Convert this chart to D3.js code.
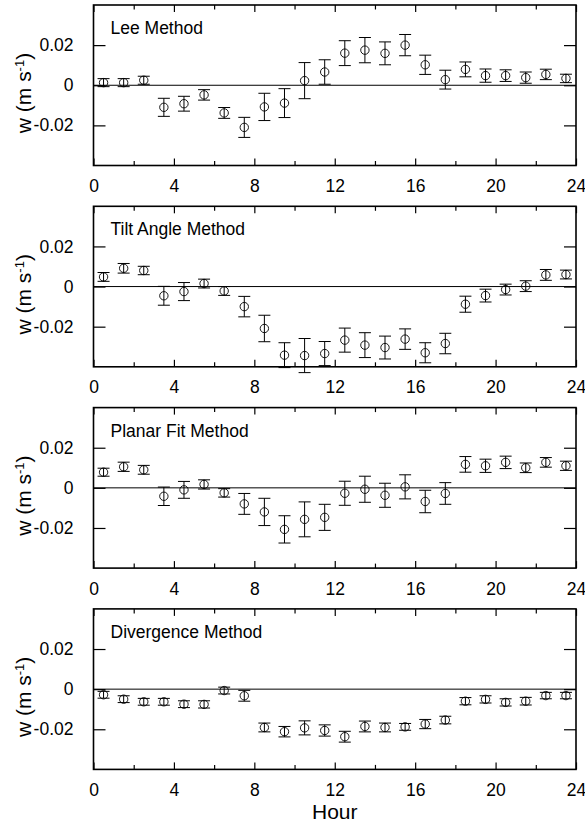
<!DOCTYPE html>
<html>
<head>
<meta charset="utf-8">
<script src="https://cdn.jsdelivr.net/npm/d3@7"></script>
<style>
  html, body { margin: 0; padding: 0; background: #fff; }
  svg { display: block; font-family: "Liberation Sans", Arial, Helvetica, sans-serif; }
</style>
</head>
<body>
<svg id="chart" width="585" height="823"></svg>
<script>
// Hour of day (bin centres)
const hours = [0.5, 1.5, 2.5, 3.5, 4.5, 5.5, 6.5, 7.5, 8.5, 9.5, 10.5, 11.5,
               12.5, 13.5, 14.5, 15.5, 16.5, 17.5, 18.5, 19.5, 20.5, 21.5, 22.5, 23.5];

// Panel titles
const methods = ["Lee Method", "Tilt Angle Method", "Planar Fit Method", "Divergence Method"];

// Mean vertical velocity w (m s-1) and error half-widths for each method
const leeW = [0.0013, 0.0013, 0.0025, -0.0110, -0.0092, -0.0048, -0.0138, -0.0210, -0.0108, -0.0089, 0.0023, 0.0066,
              0.0160, 0.0175, 0.0159, 0.0200, 0.0102, 0.0028, 0.0079, 0.0048, 0.0048, 0.0038, 0.0054, 0.0034];
const leeErr = [0.0020, 0.0020, 0.0020, 0.0045, 0.0037, 0.0026, 0.0027, 0.0050, 0.0068, 0.0072, 0.0090, 0.0061,
                0.0062, 0.0063, 0.0057, 0.0053, 0.0048, 0.0047, 0.0037, 0.0033, 0.0029, 0.0028, 0.0026, 0.0021];

const tiltW = [0.0048, 0.0091, 0.0080, -0.0046, -0.0025, 0.0015, -0.0022, -0.0100, -0.0209, -0.0342, -0.0344, -0.0334,
               -0.0267, -0.0292, -0.0304, -0.0262, -0.0330, -0.0284, -0.0088, -0.0045, -0.0015, 0.0002, 0.0058, 0.0060];
const tiltErr = [0.0022, 0.0024, 0.0021, 0.0047, 0.0045, 0.0022, 0.0022, 0.0051, 0.0066, 0.0062, 0.0085, 0.0060,
                 0.0060, 0.0062, 0.0057, 0.0051, 0.0050, 0.0051, 0.0040, 0.0032, 0.0027, 0.0027, 0.0027, 0.0022];

const planarW = [0.0078, 0.0105, 0.0090, -0.0042, -0.0010, 0.0017, -0.0025, -0.0080, -0.0120, -0.0207, -0.0157, -0.0147,
                 -0.0027, -0.0007, -0.0037, 0.0005, -0.0068, -0.0028, 0.0117, 0.0110, 0.0127, 0.0100, 0.0127, 0.0110];
const planarErr = [0.0020, 0.0023, 0.0022, 0.0046, 0.0042, 0.0023, 0.0021, 0.0052, 0.0068, 0.0068, 0.0087, 0.0065,
                   0.0060, 0.0065, 0.0060, 0.0060, 0.0056, 0.0054, 0.0039, 0.0033, 0.0031, 0.0024, 0.0024, 0.0023];

const divW = [-0.0028, -0.0050, -0.0063, -0.0063, -0.0075, -0.0076, -0.0007, -0.0033, -0.0191, -0.0212, -0.0193, -0.0206,
              -0.0237, -0.0186, -0.0191, -0.0188, -0.0174, -0.0154, -0.0060, -0.0051, -0.0066, -0.0060, -0.0032, -0.0032];
const divErr = [0.0017, 0.0017, 0.0017, 0.0017, 0.0017, 0.0018, 0.0017, 0.0027, 0.0022, 0.0026, 0.0035, 0.0028,
                0.0027, 0.0027, 0.0022, 0.0017, 0.0023, 0.0019, 0.0018, 0.0018, 0.0018, 0.0019, 0.0016, 0.0016];

const seriesW = [leeW, tiltW, planarW, divW];
const seriesErr = [leeErr, tiltErr, planarErr, divErr];

// Axis ticks
const xMajorTicks = [0, 4, 8, 12, 16, 20, 24];
const xMinorTicks = [2, 6, 10, 14, 18, 22];
const yTicks = [-0.02, 0, 0.02];

// Layout
const left = 93.5, right = 576;
const panelTop0 = 5, panelStep = 201.3, panelH = 160.5;

const svg = d3.select("#chart");
const x = d3.scaleLinear().domain([0, 24]).range([left, right]);
const yFmt = v => (v === 0 ? "0" : v.toFixed(2));

methods.forEach((name, i) => {
  const top = panelTop0 + i * panelStep;
  const bottom = top + panelH;
  const y = d3.scaleLinear().domain([-0.04, 0.04]).range([bottom, top]);
  const g = svg.append("g");

  // zero reference line
  g.append("line")
    .attr("x1", left).attr("x2", right)
    .attr("y1", y(0)).attr("y2", y(0))
    .attr("stroke", "#000").attr("stroke-width", 1);

  // axes with inward ticks
  const styleAxis = sel => {
    sel.select(".domain").remove();
    sel.selectAll(".tick line").attr("stroke", "#000").attr("stroke-width", 1.2);
    sel.selectAll("text").attr("fill", "#000");
  };

  g.append("g").attr("transform", `translate(0,${bottom})`)
    .call(d3.axisBottom(x).tickValues(xMajorTicks).tickSizeInner(-7).tickSizeOuter(0)
      .tickPadding(14).tickFormat(d3.format("d")))
    .call(styleAxis)
    .call(s => s.selectAll("text").attr("font-size", 17.5).attr("dy", "0.71em"));
  g.append("g").attr("transform", `translate(0,${bottom})`)
    .call(d3.axisBottom(x).tickValues(xMinorTicks).tickSizeInner(-4.5).tickSizeOuter(0).tickFormat(""))
    .call(styleAxis);
  g.append("g").attr("transform", `translate(0,${top})`)
    .call(d3.axisTop(x).tickValues(xMajorTicks).tickSizeInner(-7).tickSizeOuter(0).tickFormat(""))
    .call(styleAxis);
  g.append("g").attr("transform", `translate(0,${top})`)
    .call(d3.axisTop(x).tickValues(xMinorTicks).tickSizeInner(-4.5).tickSizeOuter(0).tickFormat(""))
    .call(styleAxis);
  g.append("g").attr("transform", `translate(${left},0)`)
    .call(d3.axisLeft(y).tickValues(yTicks).tickSizeInner(-12).tickSizeOuter(0)
      .tickPadding(20).tickFormat(yFmt))
    .call(styleAxis)
    .call(s => s.selectAll("text").attr("font-size", 17.5));
  g.append("g").attr("transform", `translate(${right},0)`)
    .call(d3.axisRight(y).tickValues(yTicks).tickSizeInner(-12).tickSizeOuter(0).tickFormat(""))
    .call(styleAxis);

  // frame
  g.append("rect")
    .attr("x", left).attr("y", top)
    .attr("width", right - left).attr("height", bottom - top)
    .attr("fill", "none").attr("stroke", "#000").attr("stroke-width", 1.6);

  // error bars and points
  const data = hours.map((h, k) => ({ h, w: seriesW[i][k], e: seriesErr[i][k] }));
  const pts = g.append("g").selectAll("g").data(data).join("g");
  const cap = 6;
  pts.append("line")
    .attr("x1", d => x(d.h)).attr("x2", d => x(d.h))
    .attr("y1", d => y(d.w + d.e)).attr("y2", d => y(d.w - d.e))
    .attr("stroke", "#000").attr("stroke-width", 1);
  pts.append("line")
    .attr("x1", d => x(d.h) - cap).attr("x2", d => x(d.h) + cap)
    .attr("y1", d => y(d.w + d.e)).attr("y2", d => y(d.w + d.e))
    .attr("stroke", "#000").attr("stroke-width", 1);
  pts.append("line")
    .attr("x1", d => x(d.h) - cap).attr("x2", d => x(d.h) + cap)
    .attr("y1", d => y(d.w - d.e)).attr("y2", d => y(d.w - d.e))
    .attr("stroke", "#000").attr("stroke-width", 1);
  pts.append("circle")
    .attr("cx", d => x(d.h)).attr("cy", d => y(d.w)).attr("r", 4.2)
    .attr("fill", "none").attr("stroke", "#000").attr("stroke-width", 0.9);

  // panel title
  g.append("text")
    .attr("x", left + 17).attr("y", top + 29)
    .attr("font-size", 17.5).attr("fill", "#000")
    .text(name);

  // y-axis label
  const yl = g.append("text")
    .attr("transform", `translate(31,${top + 88}) rotate(-90)`)
    .attr("text-anchor", "middle")
    .attr("font-size", 21).attr("fill", "#000");
  yl.append("tspan").text("w (m s");
  yl.append("tspan").attr("font-size", 13).attr("dy", "-0.55em").text("-1");
  yl.append("tspan").attr("dy", "0.35em").text(")");
});

// x-axis title
svg.append("text")
  .attr("x", (left + right) / 2).attr("y", 819)
  .attr("text-anchor", "middle")
  .attr("font-size", 21).attr("fill", "#000")
  .text("Hour");
</script>
</body>
</html>
